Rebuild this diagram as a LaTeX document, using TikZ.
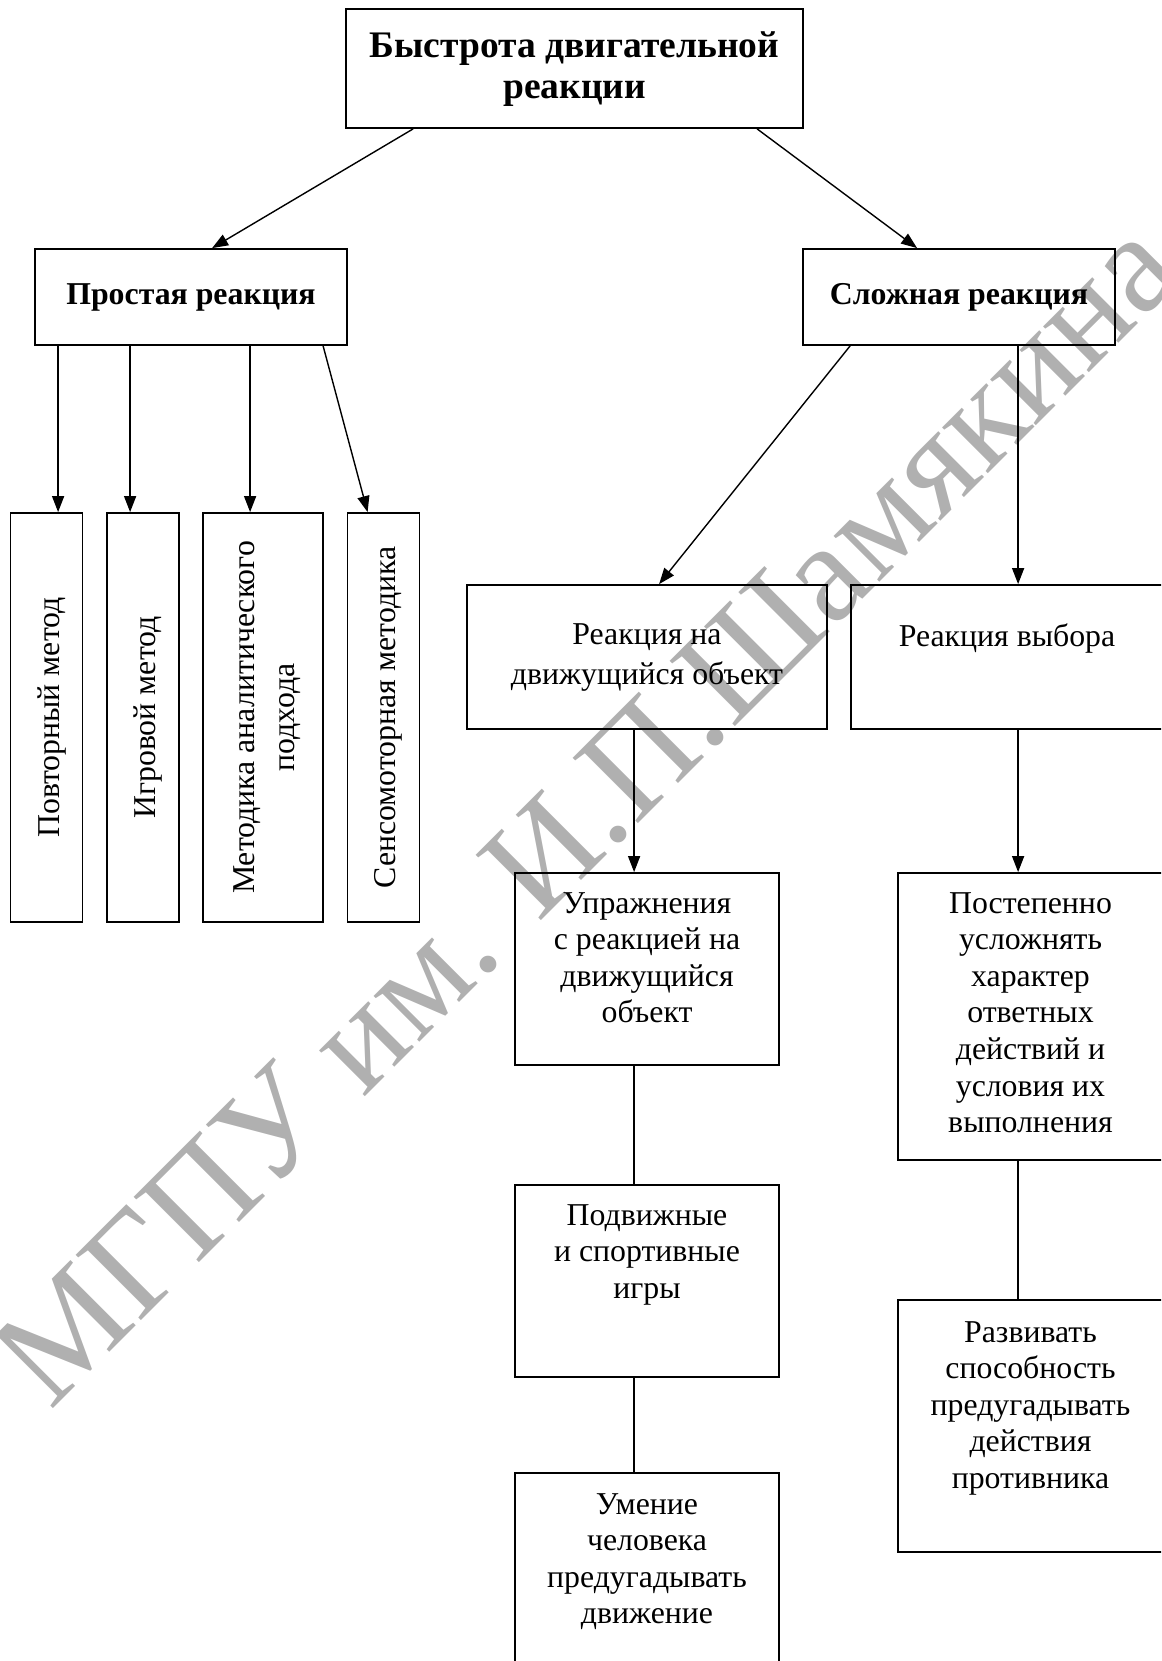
\documentclass[tikz,border=0pt]{standalone}
\usepackage{fontspec}
\setmainfont{Liberation Serif}
\usetikzlibrary{arrows.meta}
\tikzset{
    box/.style={draw, line width=1.8pt, inner sep=0pt},
    txt/.style={align=center, inner sep=0pt, font=\fontsize{31.8pt}{36.6pt}\selectfont},
    wide/.style={txt, font=\fontsize{31.8pt}{40pt}\selectfont},
    bold/.style={txt, font=\fontsize{31.8pt}{36.6pt}\selectfont\bfseries},
    title/.style={txt, font=\fontsize{37.5pt}{41.7pt}\selectfont\bfseries},
    arr/.style={line width=1.4pt, -{Triangle[length=16pt,width=12pt]}},
    link/.style={line width=1.4pt},
    wm/.style={text=black!31, inner sep=0pt, font=\fontsize{141pt}{141pt}\selectfont}
}
\begin{document}
\begin{tikzpicture}[x=1pt, y=-1pt]
    \clip (0,0) rectangle (1161,1661);
    % watermark behind everything
    \node[wm, rotate=45, anchor=base west] (wmark) at (50,1412) {МГПУ им. И.П.Шамякина};

    % top level
    \node[box, minimum width=457pt, minimum height=119pt] (top) at (574.5,68.5) {};
    \node[title, anchor=north] (top-t) at ([yshift=-23pt]top.north) {Быстрота двигательной\\реакции};
    \node[box, minimum width=312pt, minimum height=96pt] (simple) at (191,297) {};
    \node[bold] (simple-t) at (simple) {Простая реакция};
    \node[box, minimum width=312pt, minimum height=96pt] (complex) at (959,297) {};
    \node[bold] (complex-t) at (complex) {Сложная реакция};

    % methods of the simple reaction
    \node[box, minimum width=72pt, minimum height=409pt] (rep) at (46.5,717.5) {};
    \node[txt, rotate=90] (rep-t) at ([xshift=5pt]rep.center) {Повторный метод};
    \node[box, minimum width=72pt, minimum height=409pt] (game) at (143,717.5) {};
    \node[txt, rotate=90] (game-t) at ([xshift=5pt]game.center) {Игровой метод};
    \node[box, minimum width=120pt, minimum height=409pt] (anal) at (263,717.5) {};
    \node[wide, rotate=90] (anal-t) at ([xshift=4pt]anal.center) {Методика аналитического\\подхода};
    \node[box, minimum width=72pt, minimum height=409pt] (sens) at (383.5,717.5) {};
    \node[txt, rotate=90] (sens-t) at ([xshift=5pt]sens.center) {Сенсомоторная методика};

    % complex reaction branches
    \node[box, minimum width=360pt, minimum height=144pt] (rmove) at (647,657) {};
    \node[wide, anchor=north] (rmove-t) at ([yshift=-39pt]rmove.north) {Реакция на\\движущийся объект};
    \node[box, minimum width=312pt, minimum height=144pt] (rchoice) at (1007,657) {};
    \node[txt, anchor=north] (rchoice-t) at ([yshift=-39pt]rchoice.north) {Реакция выбора};

    \node[box, minimum width=264pt, minimum height=192pt] (ex) at (647,969) {};
    \node[txt, anchor=north] (ex-t) at ([yshift=-20pt]ex.north) {Упражнения\\с реакцией на\\движущийся\\объект};
    \node[box, minimum width=264pt, minimum height=192pt] (games) at (647,1281) {};
    \node[txt, anchor=north] (games-t) at ([yshift=-20pt]games.north) {Подвижные\\и спортивные\\игры};
    \node[box, minimum width=264pt, minimum height=227pt] (skill) at (647,1586.5) {};
    \node[txt, anchor=north] (skill-t) at ([yshift=-21pt]skill.north) {Умение\\человека\\предугадывать\\движение};

    \node[box, minimum width=265pt, minimum height=287pt] (grad) at (1030.5,1016.5) {};
    \node[txt, anchor=north] (grad-t) at ([yshift=-20pt]grad.north) {Постепенно\\усложнять\\характер\\ответных\\действий и\\условия их\\выполнения};
    \node[box, minimum width=265pt, minimum height=252pt] (dev) at (1030.5,1426) {};
    \node[txt, anchor=north] (dev-t) at ([yshift=-22pt]dev.north) {Развивать\\способность\\предугадывать\\действия\\противника};

    % connectors
    \draw[arr] ([xshift=68pt]top.south west) -- ([xshift=178pt]simple.north west);
    \draw[arr] ([xshift=412pt]top.south west) -- ([xshift=115pt]complex.north west);

    \coordinate (s1) at ([xshift=24pt]simple.south west);
    \coordinate (s2) at ([xshift=96pt]simple.south west);
    \coordinate (s3) at ([xshift=216pt]simple.south west);
    \draw[arr] (s1) -- (s1 |- rep.north);
    \draw[arr] (s2) -- (s2 |- game.north);
    \draw[arr] (s3) -- (s3 |- anal.north);
    \draw[arr] ([xshift=289pt]simple.south west) -- ([xshift=21pt]sens.north west);

    \draw[arr] ([xshift=48pt]complex.south west) -- ([xshift=193pt]rmove.north west);
    \coordinate (c2) at ([xshift=216pt]complex.south west);
    \draw[arr] (c2) -- (c2 |- rchoice.north);

    \coordinate (m1) at ([xshift=168pt]rmove.south west);
    \draw[arr] (m1) -- (m1 |- ex.north);
    \draw[link] (m1 |- ex.south) -- (m1 |- games.north);
    \draw[link] (m1 |- games.south) -- (m1 |- skill.north);

    \coordinate (m2) at ([xshift=168pt]rchoice.south west);
    \draw[arr] (m2) -- (m2 |- grad.north);
    \draw[link] (m2 |- grad.south) -- (m2 |- dev.north);
\end{tikzpicture}
\end{document}
